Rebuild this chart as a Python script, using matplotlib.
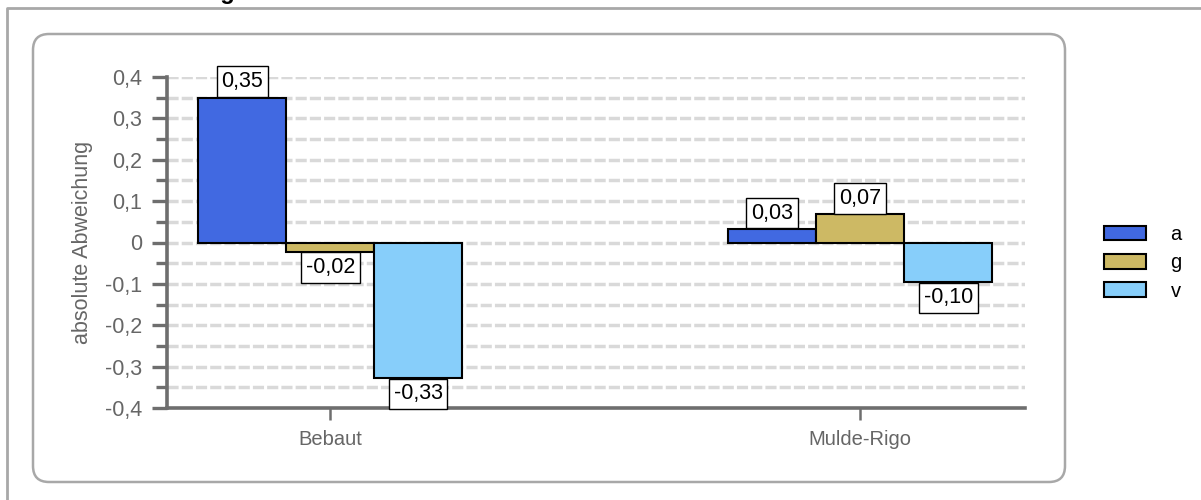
import matplotlib
matplotlib.use("Agg")
import matplotlib.pyplot as plt
import numpy as np
from matplotlib.patches import FancyBboxPatch
from matplotlib.lines import Line2D
from matplotlib.transforms import IdentityTransform
from matplotlib.ticker import FuncFormatter, MultipleLocator

plt.rcParams['font.family'] = ['Liberation Sans', 'DejaVu Sans']

# Data
categories = ['Bebaut', 'Mulde-Rigo']
series = ['a', 'g', 'v']
vals_a = [0.35, 0.032]
vals_g = [-0.022, 0.068]
vals_v = [-0.327, -0.095]
labels_a = ['0,35', '0,03']
labels_g = ['-0,02', '0,07']
labels_v = ['-0,33', '-0,10']
colors = ['#4169E1', '#CDB964', '#87CEFA']

fig = plt.figure(figsize=(12.01, 5.0), dpi=100)

# outer frame (only top and left edges visible)
fig.lines.append(Line2D([7, 7, 1215], [-10, 492, 492], transform=IdentityTransform(),
                        color='#a8a8a8', lw=2))
# inner rounded frame
fig.patches.append(FancyBboxPatch((33, 18), 1032, 448,
                                  boxstyle='round,pad=0,rounding_size=16',
                                  transform=IdentityTransform(),
                                  facecolor='none', edgecolor='#a8a8a8', lw=1.8))

# title, cut off at the top edge like in the original
fig.text(40 / 1201, 501.5 / 500, 'Abflussänderungen zum unbebauten Zustand',
         fontsize=17, fontweight='bold', va='baseline', ha='left')

ax = fig.add_axes([167 / 1201, 92 / 500, (1025 - 167) / 1201, (408 - 77) / 500])

x = np.arange(len(categories))
w = 0.166
fs = 15.5
pad = 0.22
all_vals = [vals_a, vals_g, vals_v]
all_labels = [labels_a, labels_g, labels_v]
for i, (s, v, lab, c) in enumerate(zip(series, all_vals, all_labels, colors)):
    pos = x + (i - 1) * w
    ax.bar(pos, v, width=w, color=c, edgecolor='black', linewidth=1.5, label=s, zorder=3)
    for px, pv, pl in zip(pos, v, lab):
        up = pv >= 0
        ax.annotate(pl, (px, pv), xytext=(0, (pad * fs + 0.6) * (1 if up else -1)),
                    textcoords='offset points', ha='center',
                    va='bottom' if up else 'top', fontsize=fs, color='black', zorder=5,
                    bbox=dict(boxstyle='square,pad=%.2f' % pad, fc='white', ec='black', lw=1))

ax.set_xlim(-0.308, 1.311)
ax.set_ylim(-0.4, 0.4)
ax.yaxis.set_major_locator(MultipleLocator(0.1))
ax.yaxis.set_minor_locator(MultipleLocator(0.05))
ax.yaxis.set_major_formatter(FuncFormatter(
    lambda v, p: '0' if abs(v) < 1e-9 else ('%.1f' % v).replace('.', ',')))
ax.set_xticks(x)
ax.set_xticklabels(categories)

for yv in np.arange(-0.35, 0.401, 0.05):
    ax.axhline(yv, color='#d9d9d9', lw=2.5, ls=(0, (3.2, 0.9)), zorder=1)

for sp in ['top', 'right']:
    ax.spines[sp].set_visible(False)
for sp in ['left', 'bottom']:
    ax.spines[sp].set_color('#6e6e6e')
    ax.spines[sp].set_linewidth(2.6)

ax.tick_params(axis='y', which='major', length=11, width=2.4, color='#6e6e6e',
               labelsize=15.5, labelcolor='#666666', pad=7)
ax.tick_params(axis='y', which='minor', length=8, width=2.4, color='#6e6e6e')
ax.tick_params(axis='x', length=8.6, width=1.8, color='#6e6e6e', direction='out',
               labelsize=14.5, labelcolor='#666666', pad=7)

ax.set_ylabel('absolute Abweichung', fontsize=15.5, color='#666666')
ax.yaxis.set_label_coords(-0.086, 0.5)

handles, lbls = ax.get_legend_handles_labels()
leg = fig.legend(handles, lbls, loc='center left', bbox_to_anchor=(1086 / 1201, 237 / 500),
                 frameon=False, fontsize=14.5, handlelength=2.1, handleheight=0.7,
                 labelspacing=0.45, handletextpad=1.2)

fig.savefig('out.png', dpi=100)
